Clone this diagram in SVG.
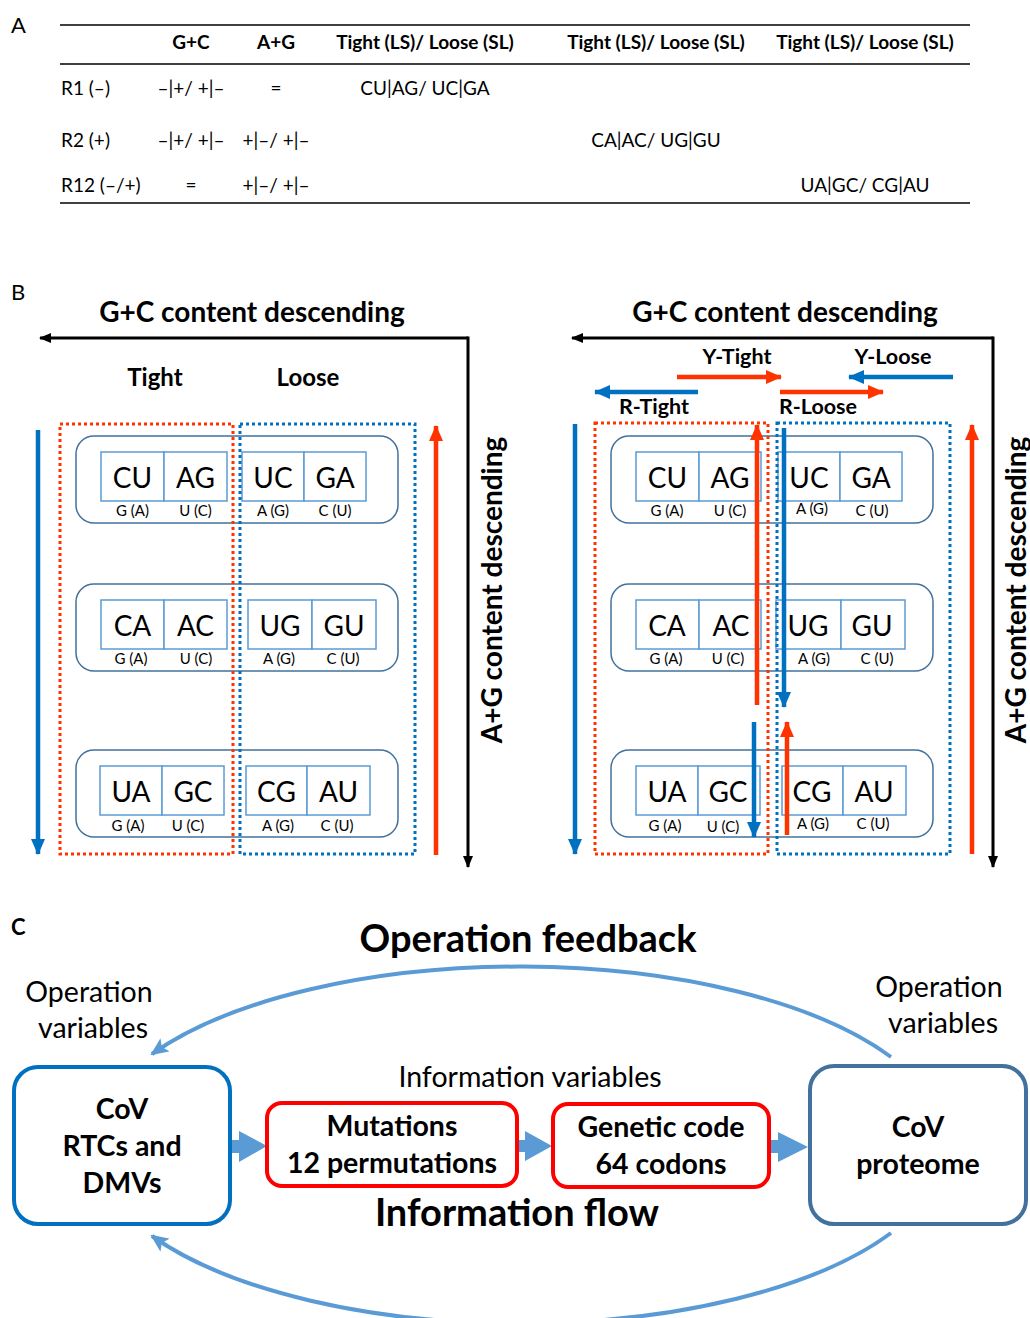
<svg xmlns="http://www.w3.org/2000/svg" width="1030" height="1318" viewBox="0 0 1030 1318">
<style>
text{font-family:Lato,"Liberation Sans",sans-serif;fill:#000}
.lbl{font-size:22px}
.th{font-size:19px;font-weight:bold;text-anchor:middle}
.td{font-size:19px}
.tdc{font-size:19px;text-anchor:middle}
.big{font-size:28px;font-weight:bold;text-anchor:middle}
.tl{font-size:24px;font-weight:bold;text-anchor:middle}
.al{font-size:21.5px;font-weight:bold;text-anchor:middle}
.rb{fill:#fff;stroke:#41719c;stroke-width:1.5}
.cell{fill:#fff;stroke:#5b9bd5;stroke-width:1.5}
.nt{font-size:28px;text-anchor:middle}
.sub{font-size:15px;text-anchor:middle}
.dr{fill:none;stroke:#ff3300;stroke-width:3;stroke-dasharray:3 3}
.db{fill:none;stroke:#0070c0;stroke-width:3;stroke-dasharray:3 3}
.ab{stroke:#0070c0;stroke-width:4.5;fill:none;marker-end:url(#hb)}
.ar{stroke:#ff3300;stroke-width:4.5;fill:none;marker-end:url(#hr)}
.ak{stroke:#000;stroke-width:3;fill:none}
.ct{font-size:38px;font-weight:bold;text-anchor:middle}
.cv{font-size:28.5px;text-anchor:middle}
.bt{font-size:28.5px;font-weight:bold;text-anchor:middle}
.arc{fill:none;stroke:#5b9bd5;stroke-width:4;marker-end:url(#ha)}
.blk{fill:#5b9bd5}
</style>
<defs>
<marker id="hb" markerUnits="userSpaceOnUse" viewBox="0 0 16 14" refX="15" refY="7" markerWidth="16" markerHeight="14" orient="auto"><path d="M0,0 L16,7 L0,14 z" fill="#0070c0"/></marker>
<marker id="hr" markerUnits="userSpaceOnUse" viewBox="0 0 16 14" refX="15" refY="7" markerWidth="16" markerHeight="14" orient="auto"><path d="M0,0 L16,7 L0,14 z" fill="#ff3300"/></marker>
<marker id="hk" markerUnits="userSpaceOnUse" viewBox="0 0 12 10" refX="11" refY="5" markerWidth="12" markerHeight="10" orient="auto"><path d="M0,0 L12,5 L0,10 z" fill="#000"/></marker>
<marker id="ha" markerUnits="userSpaceOnUse" viewBox="0 0 18 16" refX="16" refY="8" markerWidth="18" markerHeight="16" orient="auto"><path d="M0,0 L18,8 L0,16 L4,8 z" fill="#5b9bd5"/></marker>
</defs>
<rect width="1030" height="1318" fill="#fff"/>

<!-- Panel A -->
<g id="panelA">
<text class="lbl" x="11" y="33">A</text>
<line x1="60" y1="25" x2="970" y2="25" stroke="#000" stroke-width="1.5"/>
<line x1="60" y1="64" x2="970" y2="64" stroke="#000" stroke-width="1.5"/>
<line x1="60" y1="203" x2="970" y2="203" stroke="#000" stroke-width="1.5"/>
<text class="th" x="191" y="49">G+C</text>
<text class="th" x="276" y="49">A+G</text>
<text class="th" x="425" y="49">Tight (LS)/ Loose (SL)</text>
<text class="th" x="656" y="49">Tight (LS)/ Loose (SL)</text>
<text class="th" x="865" y="49">Tight (LS)/ Loose (SL)</text>
<text class="td" x="61" y="95">R1 (–)</text>
<text class="tdc" x="191" y="95">–|+/ +|–</text>
<text class="tdc" x="276" y="95">=</text>
<text class="tdc" x="425" y="95">CU|AG/ UC|GA</text>
<text class="td" x="61" y="147">R2 (+)</text>
<text class="tdc" x="191" y="147">–|+/ +|–</text>
<text class="tdc" x="276" y="147">+|–/ +|–</text>
<text class="tdc" x="656" y="147">CA|AC/ UG|GU</text>
<text class="td" x="61" y="192">R12 (–/+)</text>
<text class="tdc" x="191" y="192">=</text>
<text class="tdc" x="276" y="192">+|–/ +|–</text>
<text class="tdc" x="865" y="192">UA|GC/ CG|AU</text>
</g>

<!-- Panel B left -->
<g id="panelB-left">
<text class="lbl" x="11" y="300">B</text>
<text class="big" x="252" y="322">G+C content descending</text>
<text class="tl" x="155" y="386">Tight</text>
<text class="tl" x="308" y="386">Loose</text>
<g id="bl-row1">
<rect class="rb" x="76" y="436" width="322" height="87" rx="18"/>
<rect class="cell" x="101" y="452" width="63" height="49"/><rect class="cell" x="164" y="452" width="63" height="49"/>
<rect class="cell" x="242" y="452" width="62" height="49"/><rect class="cell" x="304" y="452" width="62" height="49"/>
<text class="nt" x="132.5" y="488">CU</text><text class="nt" x="195.5" y="488">AG</text><text class="nt" x="273" y="488">UC</text><text class="nt" x="335" y="488">GA</text>
<text class="sub" x="132.5" y="516">G (A)</text><text class="sub" x="195.5" y="516">U (C)</text><text class="sub" x="273" y="516">A (G)</text><text class="sub" x="335" y="516">C (U)</text>
</g>
<g id="bl-row2">
<rect class="rb" x="76" y="584" width="322" height="87" rx="18"/>
<rect class="cell" x="101" y="600" width="63" height="49"/><rect class="cell" x="164" y="600" width="63" height="49"/>
<rect class="cell" x="248" y="600" width="64" height="49"/><rect class="cell" x="312" y="600" width="64" height="49"/>
<text class="nt" x="132.5" y="636">CA</text><text class="nt" x="195.5" y="636">AC</text><text class="nt" x="280" y="636">UG</text><text class="nt" x="344" y="636">GU</text>
<text class="sub" x="131" y="664">G (A)</text><text class="sub" x="196" y="664">U (C)</text><text class="sub" x="279" y="664">A (G)</text><text class="sub" x="343" y="664">C (U)</text>
</g>
<g id="bl-row3">
<rect class="rb" x="76" y="750" width="322" height="87" rx="18"/>
<rect class="cell" x="100" y="766" width="62" height="49"/><rect class="cell" x="162" y="766" width="62" height="49"/>
<rect class="cell" x="246" y="766" width="61" height="49"/><rect class="cell" x="307" y="766" width="63" height="49"/>
<text class="nt" x="131" y="802">UA</text><text class="nt" x="193" y="802">GC</text><text class="nt" x="276.5" y="802">CG</text><text class="nt" x="338.5" y="802">AU</text>
<text class="sub" x="128" y="831">G (A)</text><text class="sub" x="188" y="831">U (C)</text><text class="sub" x="278" y="831">A (G)</text><text class="sub" x="337" y="831">C (U)</text>
</g>
<rect class="dr" x="60" y="424" width="173" height="430"/>
<rect class="db" x="240" y="424" width="175" height="430"/>
<text class="big" transform="translate(502 590) rotate(-90)">A+G content descending</text>
</g>

<!-- Panel B right -->
<g id="panelB-right">
<text class="big" x="785" y="322">G+C content descending</text>
<text class="al" x="737" y="364">Y-Tight</text>
<text class="al" x="893" y="364">Y-Loose</text>
<text class="al" x="654" y="414">R-Tight</text>
<text class="al" x="818" y="414">R-Loose</text>
<g id="br-row1">
<rect class="rb" x="611" y="436" width="322" height="87" rx="18"/>
<rect class="cell" x="636" y="452" width="63" height="49"/><rect class="cell" x="699" y="452" width="62" height="49"/>
<rect class="cell" x="778" y="452" width="62" height="49"/><rect class="cell" x="840" y="452" width="62" height="49"/>
<text class="nt" x="667.5" y="488">CU</text><text class="nt" x="730" y="488">AG</text><text class="nt" x="809" y="488">UC</text><text class="nt" x="871" y="488">GA</text>
<text class="sub" x="667" y="516">G (A)</text><text class="sub" x="730" y="516">U (C)</text><text class="sub" x="812" y="514">A (G)</text><text class="sub" x="872" y="516">C (U)</text>
</g>
<g id="br-row2">
<rect class="rb" x="611" y="584" width="322" height="87" rx="18"/>
<rect class="cell" x="636" y="600" width="63" height="49"/><rect class="cell" x="699" y="600" width="62" height="49"/>
<rect class="cell" x="776" y="600" width="65" height="49"/><rect class="cell" x="841" y="600" width="64" height="49"/>
<text class="nt" x="667" y="636">CA</text><text class="nt" x="731" y="636">AC</text><text class="nt" x="808" y="636">UG</text><text class="nt" x="872" y="636">GU</text>
<text class="sub" x="666" y="664">G (A)</text><text class="sub" x="728" y="664">U (C)</text><text class="sub" x="814" y="664">A (G)</text><text class="sub" x="877" y="664">C (U)</text>
</g>
<g id="br-row3">
<rect class="rb" x="611" y="750" width="322" height="87" rx="18"/>
<rect class="cell" x="636" y="766" width="62" height="49"/><rect class="cell" x="698" y="766" width="62" height="49"/>
<rect class="cell" x="782" y="766" width="61" height="49"/><rect class="cell" x="843" y="766" width="63" height="49"/>
<text class="nt" x="667" y="802">UA</text><text class="nt" x="728" y="802">GC</text><text class="nt" x="812" y="802">CG</text><text class="nt" x="874" y="802">AU</text>
<text class="sub" x="665" y="831">G (A)</text><text class="sub" x="723" y="832">U (C)</text><text class="sub" x="813" y="829">A (G)</text><text class="sub" x="873" y="829">C (U)</text>
</g>
<rect class="dr" x="595" y="423" width="173" height="431"/>
<rect class="db" x="777" y="423" width="173" height="431"/>
<text class="big" transform="translate(1026 590) rotate(-90)">A+G content descending</text>
</g>

<!-- Connectors -->
<g id="connectors">
<path class="ak" d="M468 338 L40 338" marker-end="url(#hk)"/>
<path class="ak" d="M468 336.5 L468 867" marker-end="url(#hk)"/>
<path class="ab" d="M38 430 L38 854"/>
<path class="ar" d="M436 855 L436 426"/>
<path class="ak" d="M993 338 L572 338" marker-end="url(#hk)"/>
<path class="ak" d="M993 336.5 L993 867" marker-end="url(#hk)"/>
<path class="ar" d="M677 377 L781 377"/>
<path class="ab" d="M953 377 L849 377"/>
<path class="ab" d="M698 392 L595 392"/>
<path class="ar" d="M780 392 L883 392"/>
<path class="ab" d="M575 424 L575 854"/>
<path class="ar" d="M972 854 L972 425"/>
<path class="ar" d="M757 705 L757 425"/>
<path class="ab" d="M784 428 L784 707"/>
<path class="ab" d="M754 722 L754 837"/>
<path class="ar" d="M787 835 L787 722"/>
<path class="arc" d="M891 1057 A 426 177 0 0 0 152 1054"/>
<path class="arc" d="M891 1233 A 426 177 0 0 1 152 1236"/>
<path class="blk" d="M231 1140 L239 1140 L239 1131 L267 1146 L239 1162 L239 1153 L231 1153 z"/>
<path class="blk" d="M517 1140 L525 1140 L525 1131 L552 1146 L525 1161 L525 1152 L517 1152 z"/>
<path class="blk" d="M770 1140 L778 1140 L778 1132 L808 1147 L778 1162 L778 1153 L770 1153 z"/>
</g>

<!-- Panel C -->
<g id="panelC-labels">
<text class="lbl" x="11" y="935" style="font-weight:bold">C</text>
<text class="ct" x="528" y="952">Operation feedback</text>
<text class="cv" x="89" y="1002">Operation</text>
<text class="cv" x="93" y="1038">variables</text>
<text class="cv" x="939" y="997">Operation</text>
<text class="cv" x="943" y="1033">variables</text>
<text class="cv" x="530" y="1087">Information variables</text>
<text class="ct" x="517" y="1226">Information flow</text>
</g>
<g id="node-rtc">
<rect x="14" y="1067" width="216" height="157" rx="24" fill="#fff" stroke="#0070c0" stroke-width="4"/>
<text class="bt" x="122" y="1119">CoV</text>
<text class="bt" x="122" y="1156">RTCs and</text>
<text class="bt" x="122" y="1193">DMVs</text>
</g>
<g id="node-mut">
<rect x="267" y="1103" width="250" height="83" rx="15" fill="#fff" stroke="#ff0000" stroke-width="4"/>
<text class="bt" x="392" y="1136">Mutations</text>
<text class="bt" x="392" y="1173">12 permutations</text>
</g>
<g id="node-gc">
<rect x="553" y="1104" width="216" height="83" rx="15" fill="#fff" stroke="#ff0000" stroke-width="4"/>
<text class="bt" x="661" y="1137">Genetic code</text>
<text class="bt" x="661" y="1174">64 codons</text>
</g>
<g id="node-prot">
<rect x="810" y="1066" width="216" height="158" rx="24" fill="#fff" stroke="#41719c" stroke-width="4"/>
<text class="bt" x="918" y="1137">CoV</text>
<text class="bt" x="918" y="1174">proteome</text>
</g>
</svg>
